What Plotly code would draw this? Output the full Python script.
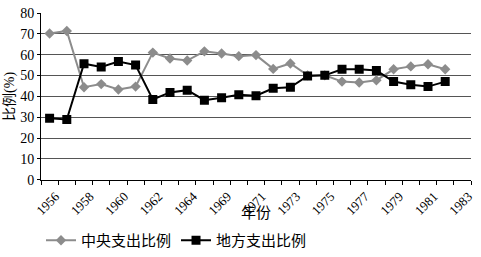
import plotly.graph_objects as go

years = ["1956", "1957", "1958", "1959", "1960", "1961", "1962", "1963", "1964", "1965",
         "1969", "1970", "1971", "1972", "1973", "1974", "1975", "1976", "1977", "1978",
         "1979", "1980", "1981", "1982", "1983"]
central = [70.2, 71.4, 44.4, 45.9, 43.3, 44.7, 61.0, 58.2, 57.2, 61.6, 60.6, 59.3,
           59.8, 53.2, 55.8, 50.1, 50.1, 47.1, 46.7, 47.7, 53.0, 54.4, 55.4, 53.0]
local = [29.5, 28.9, 55.7, 54.1, 56.7, 55.0, 38.5, 41.9, 43.0, 38.2, 39.4, 40.8,
         40.3, 43.9, 44.4, 49.8, 50.1, 53.0, 53.0, 52.4, 47.1, 45.6, 44.7, 47.1]

font_fam = "Liberation Serif, Noto Sans CJK SC, serif"
x_c = list(range(len(central)))
x_l = list(range(len(local)))
label_idx = list(range(0, len(years), 2))

fig = go.Figure()
fig.add_trace(go.Scatter(x=x_c, y=central, name="中央支出比例", mode="lines+markers",
                         line=dict(color="#8c8c8c", width=2),
                         marker=dict(symbol="diamond", size=8, color="#8c8c8c")))
fig.add_trace(go.Scatter(x=x_l, y=local, name="地方支出比例", mode="lines+markers",
                         line=dict(color="#000000", width=2),
                         marker=dict(symbol="square", size=9, color="#000000")))

fig.update_layout(
    width=481, height=257,
    margin=dict(l=41, r=6, t=8, b=69),
    paper_bgcolor="white", plot_bgcolor="white",
    font=dict(family=font_fam, size=14, color="#000"),
    showlegend=True,
    legend=dict(orientation="h", x=0.0, xanchor="left", y=0.0, yref="container",
                yanchor="bottom", font=dict(size=15), itemwidth=30,
                traceorder="normal"),
    xaxis=dict(
        range=[-0.5, len(years) - 0.5],
        tickmode="array", tickvals=label_idx,
        ticktext=[years[i] for i in label_idx],
        tickangle=-45, ticks="", showgrid=False, zeroline=False,
        showline=True, linecolor="#000", linewidth=1,
        tickfont=dict(size=13), ticklabelshift=6, ticklabelstandoff=3,
        minor=dict(tick0=-0.5, dtick=1, ticks="outside", ticklen=4,
                   tickcolor="#000", showgrid=False),
    ),
    yaxis=dict(
        range=[0, 80], dtick=10, showgrid=True, gridcolor="#555", gridwidth=1,
        zeroline=False, showline=True, linecolor="#000", linewidth=1,
        ticks="outside", ticklen=3, tickcolor="#000", tickfont=dict(size=14),
        title=dict(text="比例(%)", font=dict(size=14), standoff=2),
    ),
    annotations=[dict(text="年份", xref="paper", yref="paper", x=0.5, y=-0.2,
                      xanchor="center", yanchor="middle", showarrow=False,
                      font=dict(size=15))],
)
fig.write_html("out.html")
